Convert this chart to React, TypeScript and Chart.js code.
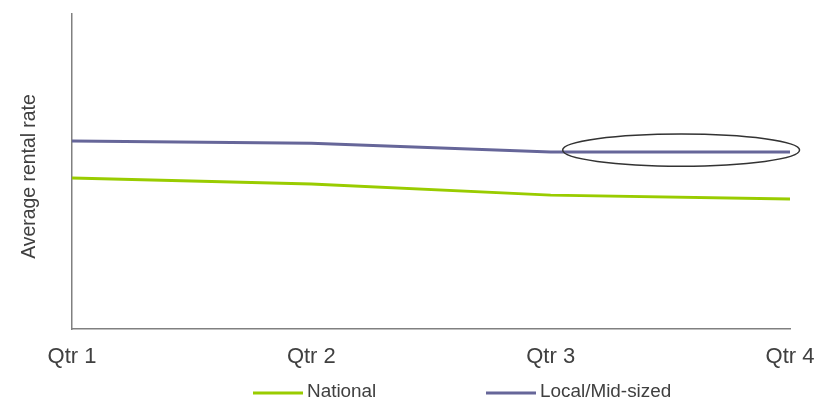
import React, { useEffect, useRef } from "react";
import { Chart, registerables } from "chart.js";

Chart.register(...registerables);

const quarters = ["Qtr 1", "Qtr 2", "Qtr 3", "Qtr 4"];
const nationalRates = [47.9, 46.0, 42.5, 41.3];
const localRates = [59.7, 59.0, 56.2, 56.2];
const seriesNames = ["National", "Local/Mid-sized"];
const seriesColors = ["#99CC00", "#666699"];
const yAxisTitle = "Average rental rate";
// Highlight ring around the flat Local/Mid-sized stretch (category index span, value span)
const highlightX = [2.05, 3.04];
const highlightY = [51.7, 61.9];

const FONT = "'Liberation Sans', Arial, Helvetica, sans-serif";
const TEXT = "#404040";
const W = 822;
const H = 394;

const highlightPlugin = {
  id: "highlightRing",
  afterDatasetsDraw(chart: any) {
    const { ctx, scales } = chart;
    const x0 = scales.x.getPixelForValue(highlightX[0]);
    const x1 = scales.x.getPixelForValue(highlightX[1]);
    const y0 = scales.y.getPixelForValue(highlightY[1]);
    const y1 = scales.y.getPixelForValue(highlightY[0]);
    ctx.save();
    ctx.beginPath();
    ctx.ellipse((x0 + x1) / 2, (y0 + y1) / 2, (x1 - x0) / 2, (y1 - y0) / 2, 0, 0, Math.PI * 2);
    ctx.strokeStyle = "#333333";
    ctx.lineWidth = 1.5;
    ctx.stroke();
    ctx.restore();
  },
};

// Rotated y-axis caption, sitting a little below the axis midpoint
const yTitlePlugin = {
  id: "yTitle",
  afterDraw(chart: any) {
    const { ctx, chartArea } = chart;
    ctx.save();
    ctx.translate(22, (chartArea.top + chartArea.bottom) / 2 + 5);
    ctx.rotate(-Math.PI / 2);
    ctx.font = `19.4px ${FONT}`;
    ctx.fillStyle = TEXT;
    ctx.textAlign = "center";
    ctx.textBaseline = "middle";
    ctx.fillText(yAxisTitle, 0, 0);
    ctx.restore();
  },
};

const legendPlugin = {
  id: "bottomLegend",
  afterDraw(chart: any) {
    const { ctx, chartArea } = chart;
    const y = chartArea.bottom + 64;
    const starts = [chartArea.left + 181, chartArea.left + 414];
    ctx.save();
    ctx.font = `18.9px ${FONT}`;
    ctx.textBaseline = "middle";
    ctx.textAlign = "left";
    chart.data.datasets.forEach((ds: any, i: number) => {
      const sx = starts[i];
      ctx.beginPath();
      ctx.moveTo(sx, y);
      ctx.lineTo(sx + 50, y);
      ctx.strokeStyle = ds.borderColor;
      ctx.lineWidth = 3;
      ctx.stroke();
      ctx.fillStyle = TEXT;
      ctx.fillText(ds.label, sx + 54, y - 1.5);
    });
    ctx.restore();
  },
};

export default function App() {
  const ref = useRef<HTMLCanvasElement>(null);

  useEffect(() => {
    if (!ref.current) return;
    const chart = new Chart(ref.current, {
      type: "line",
      data: {
        labels: quarters,
        datasets: [
          {
            label: seriesNames[0],
            data: nationalRates,
            borderColor: seriesColors[0],
            backgroundColor: seriesColors[0],
            borderWidth: 3,
            pointRadius: 0,
            tension: 0,
          },
          {
            label: seriesNames[1],
            data: localRates,
            borderColor: seriesColors[1],
            backgroundColor: seriesColors[1],
            borderWidth: 3,
            pointRadius: 0,
            tension: 0,
          },
        ],
      },
      options: {
        animation: false,
        responsive: false,
        layout: { padding: { top: 6, right: 40, bottom: 33, left: 0 } },
        plugins: {
          legend: { display: false },
          tooltip: { enabled: false },
        },
        scales: {
          x: {
            offset: false,
            grid: { display: false },
            border: { display: true, color: "#808080", width: 1.5 },
            ticks: {
              color: TEXT,
              font: { family: FONT, size: 22 },
              padding: 7,
              maxRotation: 0,
            },
            afterFit(scale: any) {
              scale.height = 40;
            },
          },
          y: {
            min: 0,
            max: 100,
            grid: { display: false },
            border: { display: true, color: "#808080", width: 1.5 },
            ticks: { display: false },
            afterFit(scale: any) {
              scale.width = 64;
            },
          },
        },
      },
      plugins: [highlightPlugin, yTitlePlugin, legendPlugin],
    });
    return () => chart.destroy();
  }, []);

  return (
    <div style={{ position: "absolute", left: 8, top: 8, width: W, height: H }}>
      <canvas ref={ref} width={W} height={H} style={{ display: "block" }} />
    </div>
  );
}
